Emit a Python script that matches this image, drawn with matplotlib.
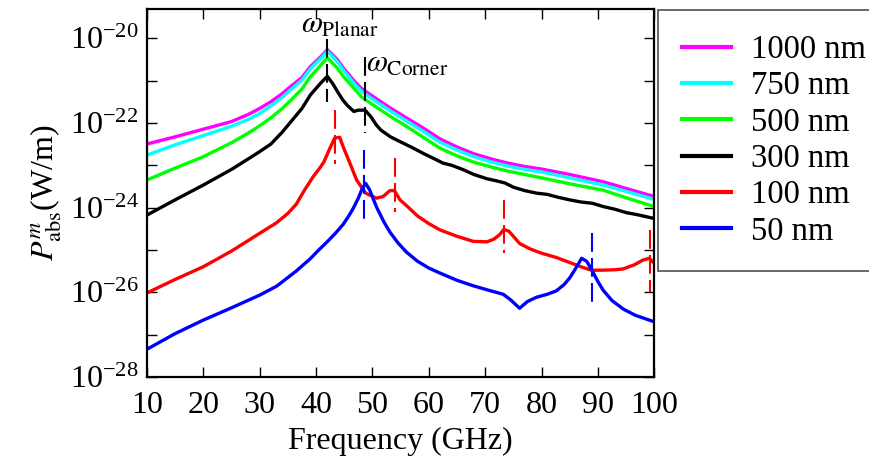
import numpy as np
import matplotlib
matplotlib.use('Agg')
import matplotlib.pyplot as plt
from matplotlib.ticker import NullFormatter

plt.rcParams['font.family'] = 'serif'
plt.rcParams['font.serif'] = ['Liberation Serif', 'DejaVu Serif']
plt.rcParams['mathtext.fontset'] = 'stix'

# frequencies (GHz) and log10 of absorbed power (W/m)
f_1000 = [10, 15, 20, 25, 28, 30, 32, 34, 35.5, 37.5, 39, 40.9, 42, 43, 43.8, 45, 46.7, 48, 49.7, 51.5, 53.2, 56, 59, 62, 65, 68, 71, 74, 77, 80, 85, 90.9, 95, 100]
p_1000 = [-22.50, -22.33, -22.15, -21.97, -21.80, -21.66, -21.50, -21.31, -21.14, -20.93, -20.67, -20.43, -20.27, -20.40, -20.51, -20.73, -21.00, -21.18, -21.34, -21.50, -21.65, -21.88, -22.12, -22.38, -22.57, -22.73, -22.85, -22.95, -23.03, -23.09, -23.22, -23.39, -23.55, -23.74]

f_750 = [10, 15, 20, 25, 28, 30, 32, 34, 35.5, 37.5, 39, 40.9, 42, 43, 43.8, 45, 46.7, 48, 49.7, 51.5, 53.2, 56, 59, 62, 65, 68, 71, 74, 77, 80, 85, 90.9, 95, 100]
p_750 = [-22.76, -22.52, -22.30, -22.08, -21.92, -21.78, -21.60, -21.40, -21.22, -20.99, -20.72, -20.47, -20.31, -20.44, -20.56, -20.78, -21.06, -21.25, -21.41, -21.57, -21.72, -21.95, -22.20, -22.46, -22.64, -22.80, -22.92, -23.02, -23.10, -23.16, -23.30, -23.47, -23.62, -23.81]

f_500 = [10, 15, 20, 25, 28, 30, 32, 34, 35.5, 37.5, 39, 40.9, 42, 43, 43.8, 45, 46.7, 48, 49.7, 51.5, 53.2, 56, 59, 62, 65, 68, 71, 74, 77, 80, 85, 90.9, 95, 100]
p_500 = [-23.35, -23.07, -22.80, -22.47, -22.24, -22.07, -21.88, -21.66, -21.47, -21.20, -20.91, -20.63, -20.46, -20.60, -20.71, -20.93, -21.18, -21.38, -21.54, -21.70, -21.85, -22.08, -22.34, -22.60, -22.78, -22.93, -23.04, -23.14, -23.22, -23.30, -23.44, -23.59, -23.77, -23.98]

f_300 = [10, 15, 20, 25, 28, 30, 32, 34, 35.5, 37.5, 39, 40.9, 42, 43, 43.8, 44.7, 45.5, 46.7, 47.5, 48.7, 49.7, 50.7, 51.5, 53.2, 55, 57, 59, 61, 62.5, 64, 66, 68, 70.3, 72, 73.5, 75, 77, 79.1, 81, 83, 85, 87, 89, 91, 93, 95, 97, 100]
p_300 = [-24.18, -23.82, -23.47, -23.10, -22.85, -22.68, -22.50, -22.22, -21.98, -21.66, -21.34, -21.05, -20.90, -21.08, -21.26, -21.45, -21.58, -21.73, -21.70, -21.70, -21.85, -22.05, -22.17, -22.33, -22.45, -22.58, -22.72, -22.85, -22.95, -23.00, -23.10, -23.22, -23.32, -23.37, -23.42, -23.52, -23.60, -23.66, -23.69, -23.76, -23.82, -23.87, -23.90, -23.98, -24.04, -24.12, -24.17, -24.26]

f_100 = [10, 15, 20, 25, 30, 33, 35, 36.5, 38, 39.5, 40.7, 41.4, 42.6, 43.3, 44.2, 44.8, 46, 47.2, 48.8, 50.7, 51.9, 53.1, 53.9, 54.9, 56, 58, 60, 62, 65, 67.9, 70.3, 71.5, 72.5, 73.3, 74.2, 75, 76.1, 78, 80, 82.6, 85, 87, 88.8, 90.9, 93, 94.5, 96.5, 98, 99.1, 100]
p_100 = [-26.02, -25.70, -25.40, -25.03, -24.61, -24.36, -24.14, -23.92, -23.58, -23.27, -23.06, -22.92, -22.56, -22.36, -22.34, -22.56, -22.95, -23.35, -23.66, -23.78, -23.74, -23.60, -23.60, -23.82, -23.95, -24.20, -24.38, -24.53, -24.68, -24.80, -24.81, -24.75, -24.65, -24.52, -24.56, -24.68, -24.85, -24.98, -25.08, -25.18, -25.30, -25.40, -25.48, -25.48, -25.47, -25.45, -25.35, -25.24, -25.20, -25.32]

f_50 = [10, 15, 20, 25, 30, 33, 36.5, 38.9, 40.5, 41.9, 43.5, 44.8, 45.8, 46.6, 47.5, 48.2, 48.8, 49.5, 50.7, 52, 53.1, 54.5, 56, 58, 60, 62, 65, 67.9, 70.5, 73.2, 74.5, 76.1, 77.5, 79.1, 81, 82.6, 84, 85, 86, 87.1, 88, 88.8, 90, 90.9, 92.5, 94.5, 96.7, 100]
p_50 = [-27.35, -26.98, -26.66, -26.37, -26.07, -25.86, -25.50, -25.22, -25.00, -24.82, -24.60, -24.40, -24.20, -24.02, -23.78, -23.55, -23.43, -23.58, -23.98, -24.33, -24.58, -24.83, -25.05, -25.27, -25.43, -25.55, -25.72, -25.85, -25.95, -26.05, -26.18, -26.38, -26.22, -26.12, -26.05, -25.97, -25.82, -25.66, -25.45, -25.20, -25.27, -25.45, -25.75, -25.95, -26.20, -26.40, -26.55, -26.70]

series = [
    ('1000 nm', f_1000, p_1000, '#ff00ff'),
    ('750 nm', f_750, p_750, '#00ffff'),
    ('500 nm', f_500, p_500, '#00ff00'),
    ('300 nm', f_300, p_300, 'black'),
    ('100 nm', f_100, p_100, 'red'),
    ('50 nm', f_50, p_50, 'blue'),
]

# resonance markers: (frequency, log10 top, log10 bottom, colour)
markers = [
    (42.0, -20.03, -21.50, 'black'),
    (48.6, -20.44, -22.25, 'black'),
    (43.3, -21.70, -22.96, 'red'),
    (54.0, -22.84, -24.10, 'red'),
    (73.3, -23.82, -25.08, 'red'),
    (99.2, -24.53, -25.99, 'red'),
    (48.5, -22.64, -24.34, 'blue'),
    (89.0, -24.61, -26.27, 'blue'),
]

fig = plt.figure(figsize=(8.69, 4.74), dpi=100)
ax = fig.add_axes([0.169, 0.205, 0.584, 0.776])

for label, f, p, c in series:
    ax.plot(f, 10.0 ** np.array(p), color=c, lw=2.4, label=label)

for fm, top, bot, c in markers:
    ax.plot([fm, fm], [10.0 ** top, 10.0 ** bot], color=c, lw=1.5,
            dashes=(9, 3))

ax.text(37.3, 10 ** -19.88, r'$\omega_{\rm Planar}$', fontsize=22, va='baseline')
ax.text(48.8, 10 ** -20.80, r'$\omega_{\rm Corner}$', fontsize=22, va='baseline')

ax.set_yscale('log')
ax.set_xlim(10, 100)
ax.set_ylim(1e-28, 10 ** -19.31)
ax.set_xticks(range(10, 101, 10))
ax.set_yticks([1e-28, 1e-26, 1e-24, 1e-22, 1e-20])
ax.set_yticks([1e-27, 1e-25, 1e-23, 1e-21], minor=True)
ax.yaxis.set_minor_formatter(NullFormatter())
ax.tick_params(which='both', direction='in', top=True, right=True,
               length=7, width=1, labelsize=23)
ax.tick_params(axis='x', pad=10)
ax.tick_params(axis='y', pad=6)
for s in ax.spines.values():
    s.set_linewidth(1.6)

ax.set_xlabel('Frequency (GHz)', fontsize=23, labelpad=5)
ax.set_ylabel(r'$P^m_{\rm abs}$(W/m)', fontsize=23, labelpad=4)

leg = fig.legend(loc='upper left', bbox_to_anchor=(0.757, 0.979), fontsize=23.5,
                 frameon=True, fancybox=False, handlelength=1.5,
                 handletextpad=0.6, labelspacing=0.18, borderpad=0.75,
                 borderaxespad=0)
leg.get_frame().set_edgecolor('#222222')
leg.get_frame().set_linewidth(1.2)
for h in leg.get_lines():
    h.set_linewidth(3)

fig.savefig('out.png', dpi=100)
